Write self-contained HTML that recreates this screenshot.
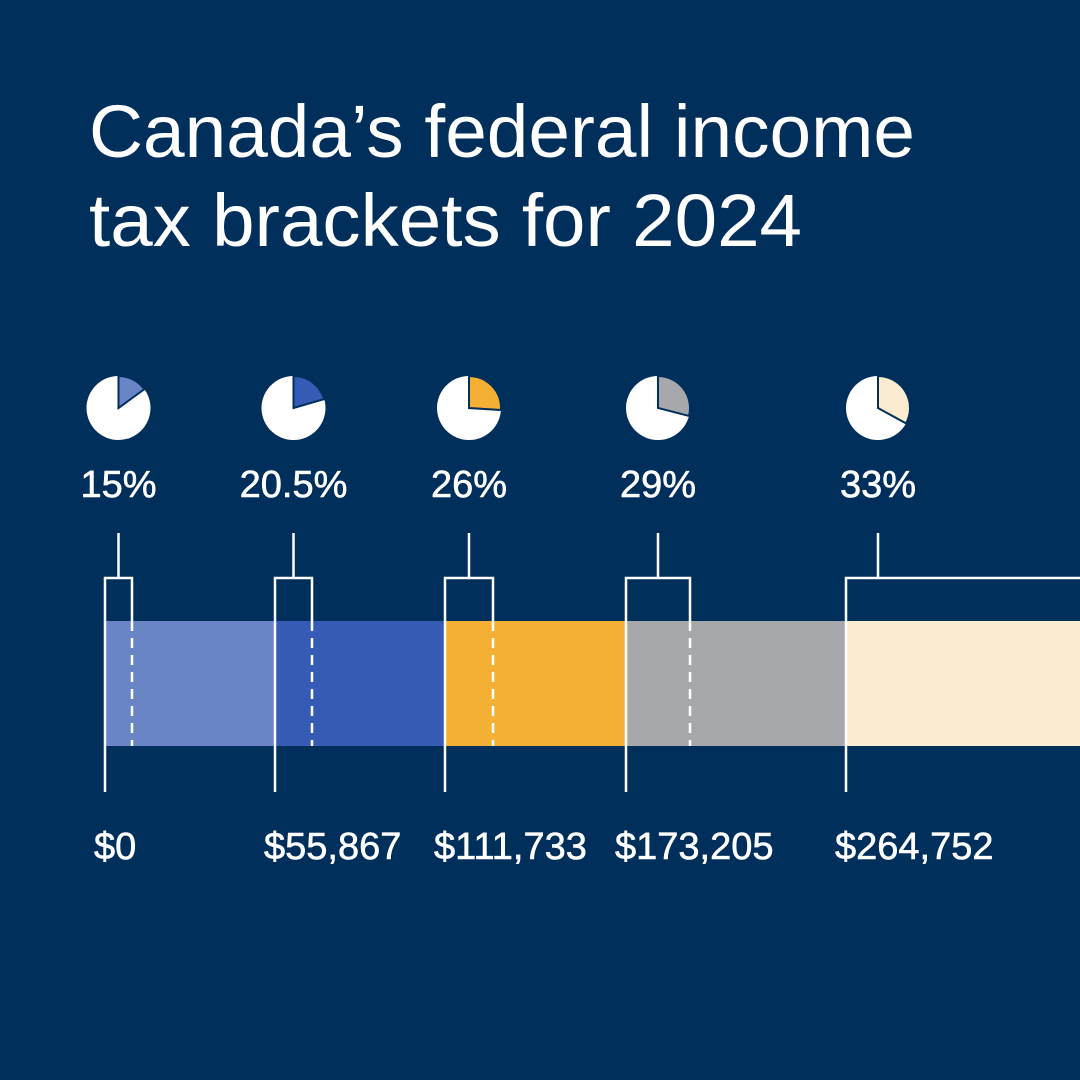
<!DOCTYPE html>
<html><head><meta charset="utf-8"><style>
html,body{margin:0;padding:0;background:#002f5c;}
svg{display:block;}
text{font-family:"Liberation Sans",sans-serif;fill:#fff;}
</style></head><body>
<svg id="chart" width="1080" height="1080" viewBox="0 0 1080 1080">
<rect x="0" y="0" width="1080" height="1080" fill="#002f5c"/>
<text x="89" y="157" font-size="74" textLength="826" lengthAdjust="spacingAndGlyphs">Canada’s federal income</text>
<text x="89" y="246" font-size="74" textLength="713" lengthAdjust="spacingAndGlyphs">tax brackets for 2024</text>
<g id="marks"></g>
</svg>
<script>
const thresholds = [0, 55867, 111733, 173205, 264752];
const thresholdLabels = ["$0", "$55,867", "$111,733", "$173,205", "$264,752"];
const rates = [15, 20.5, 26, 29, 33];
const rateLabels = ["15%", "20.5%", "26%", "29%", "33%"];
const colors = ["#6985c6", "#355bb4", "#f4b034", "#a7a8ab", "#fbebcf"];

// piecewise axis (the graphic is not to scale)
const axisDomain = [0, 55867, 111733, 173205, 264752, 400000];
const axisRange = [105, 275, 445, 626, 846, 1080];
function xScale(v){
  for(let i=0;i<axisDomain.length-1;i++){
    if(v<=axisDomain[i+1]){
      const t=(v-axisDomain[i])/(axisDomain[i+1]-axisDomain[i]);
      return axisRange[i]+t*(axisRange[i+1]-axisRange[i]);
    }
  }
  return axisRange[axisRange.length-1];
}
const NS="http://www.w3.org/2000/svg";
const g=document.getElementById('marks');
function mk(tag,attrs){const e=document.createElementNS(NS,tag);for(const k in attrs)e.setAttribute(k,attrs[k]);g.appendChild(e);return e;}
const barTop=621, barH=125, bracketY=578, stemTop=533, lineBottom=792, pieY=408, pieR=32;
const bracketW=[27,37,48,64,300];
for(let i=0;i<thresholds.length;i++){
  const x0=xScale(thresholds[i]);
  const x1=i<thresholds.length-1?xScale(thresholds[i+1]):1080;
  const seg=mk('rect',{x:x0,y:barTop,width:x1-x0,height:barH,fill:colors[i]});
  
  
}
for(let i=0;i<thresholds.length;i++){
  const x0=xScale(thresholds[i]);
  const xb=x0+bracketW[i];
  const cx=i<4?(x0+xb)/2:x0+32;
  const br=mk('path',{d:`M${x0} ${lineBottom} V${bracketY} H${xb} ${i<4?`V${barTop}`:''} M${cx} ${bracketY} V${stemTop}`,stroke:'#fff','stroke-width':2.5,fill:'none'});
  
  
  if(i<4){
    const d=mk('line',{x1:xb,y1:barTop,x2:xb,y2:barTop+barH,stroke:'#fff','stroke-width':2.5,'stroke-dasharray':'10 7'});
    
    
  }
  const pc=mk('circle',{cx:cx,cy:pieY,r:pieR,fill:'#fff'});
  
  
  const a=rates[i]/100*2*Math.PI;
  const ex=cx+pieR*Math.sin(a), ey=pieY-pieR*Math.cos(a);
  const sl=mk('path',{d:`M${cx} ${pieY} V${pieY-pieR} A${pieR} ${pieR} 0 0 1 ${ex} ${ey} Z`,fill:colors[i],stroke:'#002f5c','stroke-width':2,'stroke-linejoin':'miter'});
  
  
  const rl=mk('text',{x:cx,y:497,'font-size':38,'text-anchor':'middle',stroke:'#fff','stroke-width':0.6});
  rl.textContent=rateLabels[i];
  
  
  const tl=mk('text',{x:x0-11,y:859,'font-size':38,stroke:'#fff','stroke-width':0.6});
  tl.textContent=thresholdLabels[i];
  
  
}
</script>
</body></html>
